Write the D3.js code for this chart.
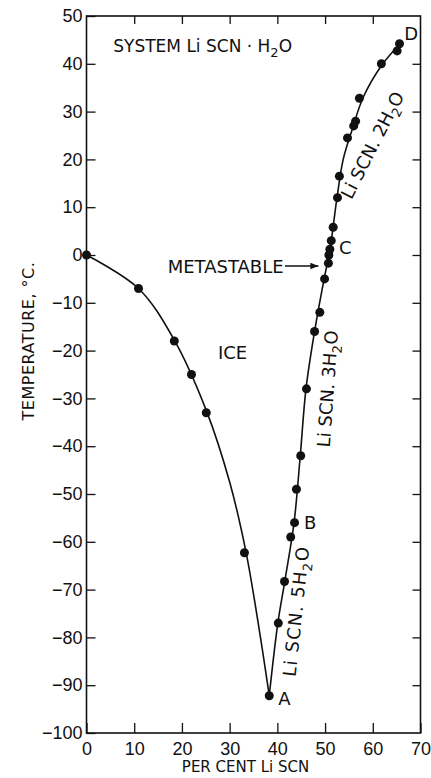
<!DOCTYPE html>
<html>
<head>
<meta charset="utf-8">
<script src="https://cdn.jsdelivr.net/npm/d3@7"></script>
<style>
  body { margin: 0; background: #fff; }
  svg { display: block; font-family: 'DejaVu Sans', sans-serif; }
</style>
</head>
<body>
<div id="chart"></div>
<script>
// Measured points, ice branch (per cent LiSCN, temperature °C)
const iceComp = [0, 10.9, 18.4, 22.0, 25.1, 33.1, 38.3];
const iceTemp = [0, -7, -18, -25, -33, -62.3, -92.2];

// Measured points, hydrate branches (A -> B -> C -> D)
const saltComp = [40.2, 41.5, 42.8, 43.6, 44.0, 44.9, 46.1, 47.8, 48.9, 49.9, 50.7, 50.8, 51.0, 51.3, 51.7, 52.6, 53.0, 54.7, 56.0, 56.4, 57.2, 61.8, 65.1, 65.6];
const saltTemp = [-77, -68.3, -59, -56, -49, -42, -28, -16, -12, -5, -1.7, 0, 1.2, 3, 5.8, 12, 16.5, 24.5, 27, 28, 32.8, 40, 42.7, 44.2];

// Smooth curves
const iceCurve = [[0, 0], [10.9, -7], [18.4, -17.8], [25.1, -32.5], [30, -47.5], [33.4, -62], [36.3, -79], [38.3, -92.2]];
const saltCurve = [[38.3, -92.2], [40.1, -77], [41.6, -68], [43.5, -56], [44.8, -42], [46, -28], [47.8, -16],
  [49.8, -5], [51, 1], [52.5, 12], [53.8, 20], [55.6, 26], [58, 33], [61.8, 39.6], [65.8, 44.3]];

const xTicks = [0, 10, 20, 30, 40, 50, 60, 70];
const yTicks = [50, 40, 30, 20, 10, 0, -10, -20, -30, -40, -50, -60, -70, -80, -90, -100];

const W = 431, H = 778;
const margin = { top: 16, right: 10.5, bottom: 45, left: 86.5 };
const width = W - margin.left - margin.right;
const height = H - margin.top - margin.bottom;

const svg = d3.select('#chart').append('svg')
  .attr('width', W).attr('height', H);

const g = svg.append('g')
  .attr('transform', `translate(${margin.left},${margin.top})`);

const x = d3.scaleLinear().domain([0, 70]).range([0, width]);
const y = d3.scaleLinear().domain([-100, 50]).range([height, 0]);

const fmt = d => d < 0 ? '\u2212' + Math.abs(d) : String(d);

// Frame
g.append('rect')
  .attr('width', width).attr('height', height)
  .attr('fill', 'none').attr('stroke', '#111').attr('stroke-width', 1.6);

// Bottom axis, ticks inward
const xAxis = g.append('g').attr('transform', `translate(0,${height})`)
  .call(d3.axisBottom(x).tickValues(xTicks).tickSizeInner(-10).tickSizeOuter(0).tickPadding(9).tickFormat(fmt));
xAxis.select('.domain').remove();
xAxis.selectAll('text').style('font-size', '18px').attr('fill', '#111');
xAxis.selectAll('line').attr('stroke', '#111').attr('stroke-width', 1.3);

// Top ticks
g.append('g')
  .call(d3.axisTop(x).tickValues(xTicks.slice(1, -1)).tickSizeInner(-8).tickSizeOuter(0).tickFormat(''))
  .call(a => a.select('.domain').remove())
  .selectAll('line').attr('stroke', '#111').attr('stroke-width', 1.3);

// Left axis, ticks inward
const yAxis = g.append('g')
  .call(d3.axisLeft(y).tickValues(yTicks).tickSizeInner(-9).tickSizeOuter(0).tickPadding(4).tickFormat(fmt));
yAxis.select('.domain').remove();
yAxis.selectAll('text').style('font-size', '18px').attr('fill', '#111');
yAxis.selectAll('line').attr('stroke', '#111').attr('stroke-width', 1.3);

// Right ticks
g.append('g').attr('transform', `translate(${width},0)`)
  .call(d3.axisRight(y).tickValues(yTicks.slice(1, -1)).tickSizeInner(-8).tickSizeOuter(0).tickFormat(''))
  .call(a => a.select('.domain').remove())
  .selectAll('line').attr('stroke', '#111').attr('stroke-width', 1.3);

// Axis titles
svg.append('text')
  .attr('transform', `translate(${margin.left + width / 2 - 8},${H - 6})`)
  .attr('text-anchor', 'middle')
  .style('font-size', '15px').attr('fill', '#111')
  .text('PER CENT  Li  SCN');

svg.append('text')
  .attr('transform', `translate(34,${margin.top + y(-18)}) rotate(-90)`)
  .attr('text-anchor', 'middle')
  .style('font-size', '16px').style('letter-spacing', '0.5px').attr('fill', '#111')
  .text('TEMPERATURE, °C.');

// Curves
const line = d3.line()
  .x(d => x(d[0])).y(d => y(d[1]))
  .curve(d3.curveCatmullRom.alpha(0.5));

[iceCurve, saltCurve].forEach(c => {
  g.append('path').datum(c)
    .attr('fill', 'none').attr('stroke', '#111').attr('stroke-width', 1.6)
    .attr('d', line);
});

// Points
const pts = iceComp.map((c, i) => [c, iceTemp[i]])
  .concat(saltComp.map((c, i) => [c, saltTemp[i]]));

g.selectAll('.dot').data(pts).enter().append('circle')
  .attr('class', 'dot')
  .attr('cx', d => x(d[0])).attr('cy', d => y(d[1]))
  .attr('r', 4.5).attr('fill', '#111');

// Text annotations
function label(text, xv, yv, size, anchor) {
  return g.append('text')
    .attr('x', x(xv)).attr('y', y(yv))
    .attr('dy', '0.36em')
    .attr('text-anchor', anchor || 'start')
    .style('font-size', size + 'px').attr('fill', '#111')
    .text(text);
}

// Title with subscript
const title = g.append('text')
  .attr('x', x(5.6)).attr('y', y(42.5))
  .style('font-size', '17px').attr('fill', '#111');
title.append('tspan').text('SYSTEM  Li SCN \u00b7 H');
title.append('tspan').attr('dy', 5).style('font-size', '13px').text('2');
title.append('tspan').attr('dy', -5).text('O');

label('ICE', 30.6, -20.5, 18, 'middle');
label('METASTABLE', 41.3, -2.5, 18, 'end');
label('A', 40.2, -92.8, 18);
label('B', 45.6, -56, 18);
label('C', 52.9, 1.5, 18);
label('D', 66.6, 46.3, 18);

// Arrow for metastable
g.append('defs').append('marker')
  .attr('id', 'arrow').attr('viewBox', '0 0 10 10')
  .attr('refX', 10).attr('refY', 5)
  .attr('markerWidth', 11).attr('markerHeight', 8)
  .attr('orient', 'auto').attr('markerUnits', 'userSpaceOnUse')
  .append('path').attr('d', 'M0,1 L10,5 L0,9 Z').attr('fill', '#111');

g.append('line')
  .attr('x1', x(41.6)).attr('y1', y(-2.3))
  .attr('x2', x(48.6)).attr('y2', y(-2.3))
  .attr('stroke', '#111').attr('stroke-width', 1.4)
  .attr('marker-end', 'url(#arrow)');

// Rotated hydrate labels
function hydrate(n, xv, yv, angle, spacing) {
  const t = g.append('text')
    .attr('transform', `translate(${x(xv)},${y(yv)}) rotate(${angle})`)
    .attr('text-anchor', 'middle')
    .attr('dy', '0.36em')
    .style('font-size', '18px').style('letter-spacing', spacing + 'px').attr('fill', '#111');
  t.append('tspan').text(`Li SCN. ${n}H`);
  t.append('tspan').attr('dy', 5).style('font-size', '13px').text('2');
  t.append('tspan').attr('dy', -5).text('O');
}

hydrate(5, 43.9, -74.5, -84, 1.2);
hydrate(3, 50.5, -28, -86, 0);
hydrate(2, 59.9, 23, -63, 0);
</script>
</body>
</html>
